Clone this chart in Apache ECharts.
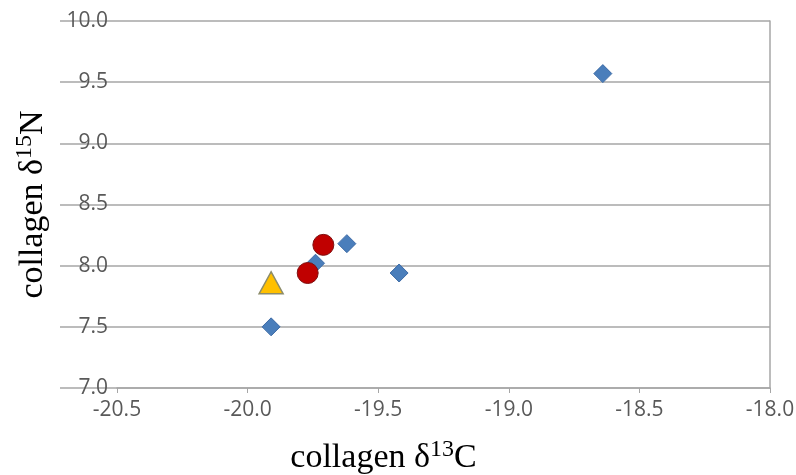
<!DOCTYPE html>
<html>
<head>
<meta charset="utf-8">
<script src="https://cdn.jsdelivr.net/npm/echarts@6/dist/echarts.min.js"></script>
<style>
  html, body { margin: 0; padding: 0; background: #fff; }
  #chart { width: 796px; height: 475px; }
</style>
</head>
<body>
<div id="chart"></div>
<script>
// blue diamonds
const diamondX = [-18.64, -19.62, -19.42, -19.74, -19.91];
const diamondY = [9.57, 8.18, 7.94, 8.02, 7.50];
// red circles
const circleX = [-19.71, -19.77];
const circleY = [8.17, 7.94];
// yellow triangle
const triangleX = [-19.91];
const triangleY = [7.86];

const xTicks = [-20.5, -20.0, -19.5, -19.0, -18.5, -18.0];
const yTicks = [7.0, 7.5, 8.0, 8.5, 9.0, 9.5, 10.0];

const pair = (xs, ys) => xs.map((x, i) => [x, ys[i]]);

const chart = echarts.init(document.getElementById("chart"));

const titleRich = {
  a: { fontFamily: "Liberation Serif", fontSize: 34, color: "#000", lineHeight: 40 },
  s: { fontFamily: "Liberation Serif", fontSize: 24, color: "#000", lineHeight: 40, verticalAlign: "top" }
};

const gray = "#a6a6a6";
const labelStyle = { fontFamily: "Open Sans", fontSize: 21, color: "#595959" };

const option = {
  animation: false,
  grid: { left: 117, right: 26, top: 21, bottom: 87, outerBoundsMode: "none", containLabel: false },
  xAxis: {
    type: "value",
    min: xTicks[0],
    max: xTicks[xTicks.length - 1],
    interval: 0.5,
    name: "{a|collagen δ}{s|13}{a|C}",
    nameLocation: "middle",
    nameGap: 50,
    nameTextStyle: { rich: titleRich, padding: [0, 120, 0, 0] },
    axisLine: { show: true, lineStyle: { color: gray, width: 1.5 } },
    axisTick: { show: true, length: 5, lineStyle: { color: gray } },
    splitLine: { show: false },
    axisLabel: Object.assign({ margin: 12, formatter: v => v.toFixed(1) }, labelStyle)
  },
  yAxis: [
    {
      type: "value",
      min: yTicks[0],
      max: yTicks[yTicks.length - 1],
      interval: 0.5,
      name: "{a|collagen δ}{s|15}{a|N}",
      nameLocation: "middle",
      nameGap: 64,
      nameTextStyle: { rich: titleRich },
      axisLine: { show: false },
      axisTick: { show: true, length: 57, lineStyle: { color: gray, width: 1.5 } },
      splitLine: { show: true, lineStyle: { color: gray, width: 1.5 } },
      axisLabel: Object.assign({ margin: 9, formatter: v => v.toFixed(1) }, labelStyle)
    },
    {
      type: "value",
      position: "right",
      min: yTicks[0],
      max: yTicks[yTicks.length - 1],
      interval: 0.5,
      axisLine: { show: true, lineStyle: { color: gray, width: 1.5 } },
      axisTick: { show: false },
      axisLabel: { show: false },
      splitLine: { show: false }
    }
  ],
  series: [
    {
      type: "scatter",
      data: pair(diamondX, diamondY),
      symbol: "diamond",
      symbolSize: 18,
      itemStyle: { color: "#4a7ebb", borderColor: "#3c6aa5", borderWidth: 1, opacity: 1 }
    },
    {
      type: "scatter",
      data: pair(circleX, circleY),
      symbol: "circle",
      symbolSize: 21,
      itemStyle: { color: "#c00000", borderColor: "#7f1010", borderWidth: 1, opacity: 1 }
    },
    {
      type: "scatter",
      data: pair(triangleX, triangleY),
      symbol: "triangle",
      symbolSize: [24, 22],
      itemStyle: { color: "#ffc000", borderColor: "#8c8c6a", borderWidth: 1.5, opacity: 1 }
    }
  ]
};

chart.setOption(option);
</script>
</body>
</html>
